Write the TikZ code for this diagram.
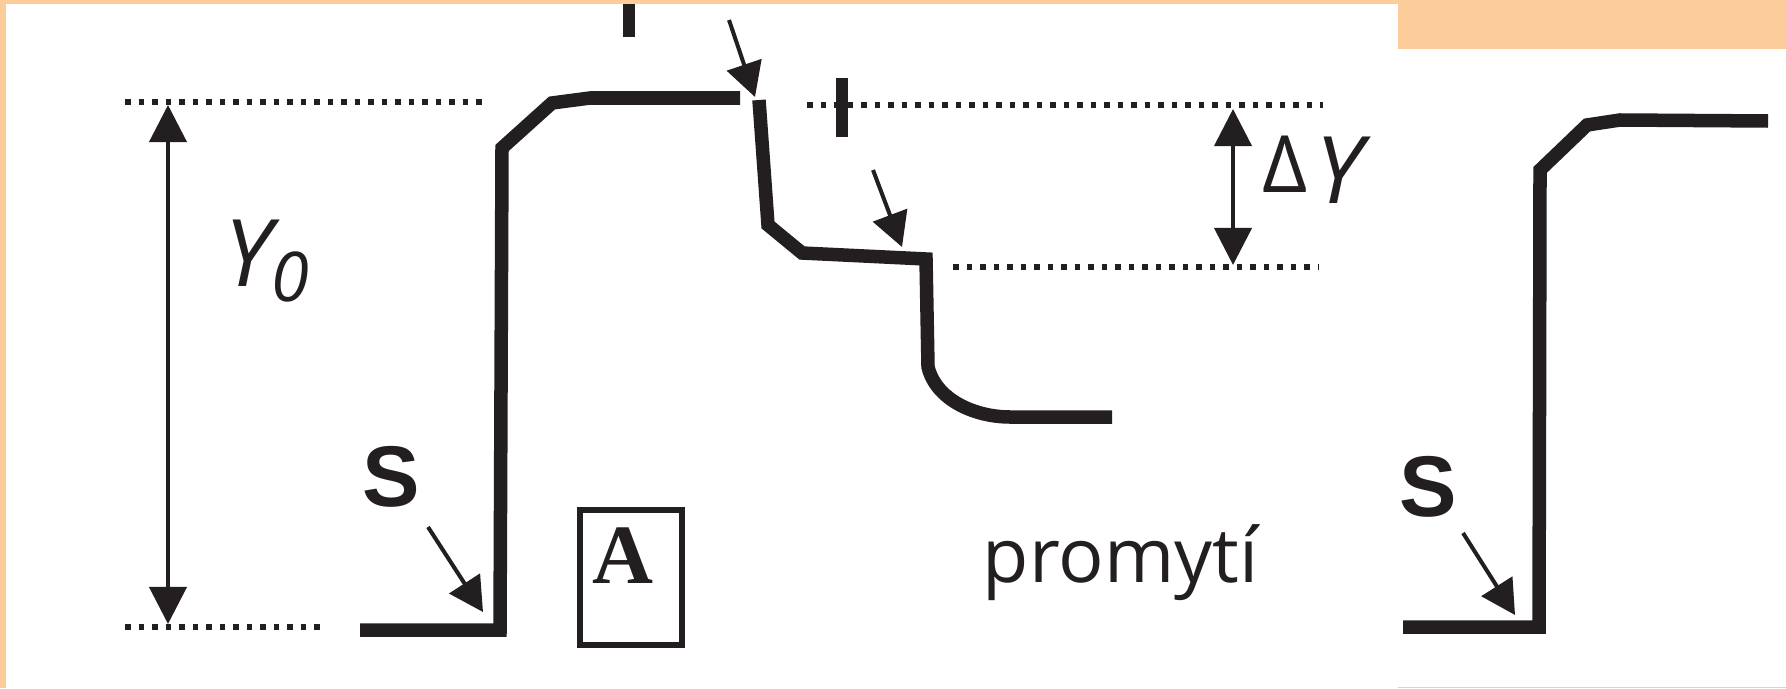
\documentclass[tikz,border=0pt]{standalone}
\usepackage{fontspec}
\usetikzlibrary{arrows.meta}
\newfontfamily\labfont{Open Sans}
\newfontfamily\sbold{Liberation Sans}
\newfontfamily\rbold{Liberation Serif}
\definecolor{peach}{RGB}{253,204,155}
\definecolor{ink}{RGB}{35,31,32}
\begin{document}
\begin{tikzpicture}[x=0.01cm,y=-0.01cm,
  curve/.style={draw=ink,line width=0.135cm,line join=miter},
  guide/.style={draw=ink,line width=0.06cm,dash pattern=on 0.055cm off 0.08cm},
  pointer/.style={draw=ink,line width=0.04cm,-{Triangle[length=0.34cm,width=0.36cm]}},
  dimarrow/.style={draw=ink,line width=0.04cm,{Triangle[length=0.37cm,width=0.37cm]}-{Triangle[length=0.37cm,width=0.37cm]}},
  tickbar/.style={draw=ink,line width=0.115cm},
  lab/.style={inner sep=0pt,text=ink},
]
\useasboundingbox (0,0) rectangle (1786,688);
% background frame
\fill[peach] (0,0) rectangle (1786,688);
\fill[white] (6,4) rectangle (1398,688);
\fill[white] (1398,49) rectangle (1786,687);

% named points
\coordinate (g1a) at (125,102); \coordinate (g1b) at (487,102);
\coordinate (g2a) at (125,627); \coordinate (g2b) at (321,627);
\coordinate (g3a) at (807,105); \coordinate (g3b) at (1323,105);
\coordinate (g4a) at (953,267); \coordinate (g4b) at (1318,267);
\coordinate (y0top) at (168,105); \coordinate (y0bot) at (168,624);
\coordinate (dytop) at (1233,109); \coordinate (dybot) at (1233,265);
\coordinate (p1s) at (729,20);  \coordinate (p1e) at (755,97);
\coordinate (p2s) at (873,170); \coordinate (p2e) at (902,247);
\coordinate (p3s) at (428,527); \coordinate (p3e) at (483,612);
\coordinate (p4s) at (1463,533); \coordinate (p4e) at (1515,615);

% dotted guides
\draw[guide] (g1a) -- (g1b);
\draw[guide] (g2a) -- (g2b);
\draw[guide] (g3a) -- (g3b);
\draw[guide] (g4a) -- (g4b);

% tick bars
\draw[tickbar] (629,4) -- (629,37);
\draw[tickbar] (842,78) -- (842,137);

% response curves
\draw[curve] (360,630) -- (500,630) -- (502,148) -- (552,103) -- (590,98) -- (740,98);
\draw[curve] (759,100) -- (768,225) -- (802,253) -- (926,259) -- (928,367)
  .. controls (936,400) and (975,417) .. (1010,417) -- (1112,417);
\draw[curve] (1403,627) -- (1539,627) -- (1540,170) -- (1587,125) -- (1620,120) -- (1768,121);

% dimension arrows
\draw[dimarrow] (y0top) -- (y0bot);
\draw[dimarrow] (dytop) -- (dybot);

% pointers
\draw[pointer] (p1s) -- (p1e);
\draw[pointer] (p2s) -- (p2e);
\draw[pointer] (p3s) -- (p3e);
\draw[pointer] (p4s) -- (p4e);

% labels
\node[lab,anchor=base west,font=\labfont\fontsize{26.5}{30}\selectfont\itshape] (y0) at (224,286)
  {Y\raisebox{-4.3pt}{\fontsize{19.5}{22}\selectfont 0}};
\node[lab,anchor=base west,font=\labfont\fontsize{26.5}{30}\selectfont] (dy) at (1262,203)
  {\raisebox{3.1pt}{\fontsize{22.5}{26}\selectfont Δ}\hspace{2pt}{\itshape Y}};
\node[lab,anchor=base west,font=\labfont\fontsize{21.5}{26}\selectfont] (prom) at (982,582) {promytí};
\node[lab,anchor=base,font=\sbold\bfseries\fontsize{24.5}{28}\selectfont] (s1) at (391,506) {S};
\node[lab,anchor=base,font=\sbold\bfseries\fontsize{24.5}{28}\selectfont] (s2) at (1428,516) {S};
\node[draw=ink,line width=0.065cm,minimum width=1.02cm,minimum height=1.35cm,inner sep=0pt] (abox) at (631,577.5) {};
\node[lab,anchor=base,font=\rbold\bfseries\fontsize{24}{28}\selectfont] (alab) at (623,583) {A};
\end{tikzpicture}
\end{document}
